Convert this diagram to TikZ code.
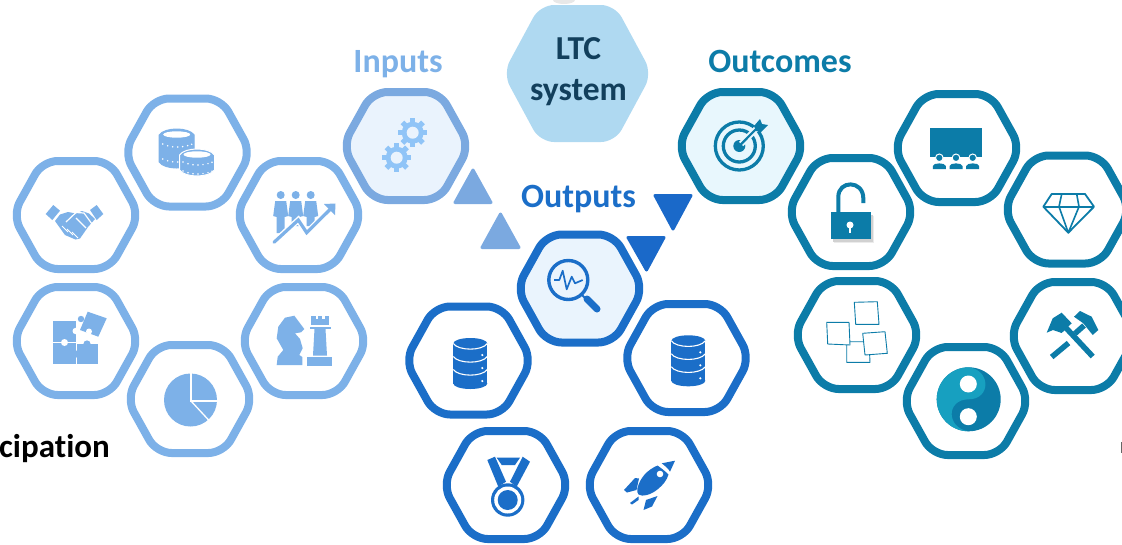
\documentclass[tikz,border=0pt]{standalone}
\usepackage{fontspec}
\setmainfont{Carlito}
\definecolor{inc}{HTML}{7DB1E8}
\definecolor{inb}{HTML}{7BA9E0}
\definecolor{inf}{HTML}{EAF3FD}
\definecolor{gearc}{HTML}{90C4F7}
\definecolor{outc}{HTML}{1B6EC8}
\definecolor{outf}{HTML}{EAF4FD}
\definecolor{tric}{HTML}{1A69C9}
\definecolor{cmc}{HTML}{0C7CA8}
\definecolor{cmf}{HTML}{E8F7FD}
\definecolor{ltcf}{HTML}{AFD9F1}
\definecolor{ltct}{HTML}{123F5C}
\definecolor{cyanl}{HTML}{17A0C0}
\tikzset{
  hexline/.style={line width=8pt,rounded corners=15pt,line join=round},
  ttl/.style={inner sep=0pt,anchor=base,font=\fontsize{34}{34}\selectfont\bfseries},
  ltctxt/.style={inner sep=0pt,anchor=base,text=ltct,font=\fontsize{33.5}{34}\selectfont\bfseries},
  tri/.style={line width=3pt,line join=round},
}
\newcommand{\hexa}[5]{%
  \coordinate (#1) at (#2,#3);
  \begin{scope}[shift={(#1)}]
    \draw[hexline,draw=#4,fill=#5] (-63.5,0) -- (-33.5,-54) -- (33.5,-54) -- (63.5,0) -- (33.5,54) -- (-33.5,54) -- cycle;
  \end{scope}}
\newcommand{\gearicon}[2]{%
  \begin{scope}[shift={(#1,#2)}]
    \fill[gearc] (0,0) circle[radius=11];
    \foreach \a in {0,45,...,315}{\fill[gearc,rotate=\a] (-2.6,-14.5) rectangle (2.6,0);}
    \fill[inf] (0,0) circle[radius=6];
  \end{scope}}
\newcommand{\dbicon}[2]{%
  \begin{scope}[shift={(#1,#2)}]
    \fill[outc] (-17,-20) rectangle (17,20);
    \fill[outc] (0,20) ellipse[x radius=17,y radius=5.5];
    \fill[outc] (0,-20) ellipse[x radius=17,y radius=5.5];
    \foreach \y in {-20,-7,6}{
      \draw[white,line width=1.1pt] (-17,\y) .. controls (-12,\y+7.5) and (12,\y+7.5) .. (17,\y);
      \fill[white] (12,\y+11.5) circle[radius=1.2];}
  \end{scope}}
\newcommand{\coinstack}[5]{%
  \begin{scope}[shift={(#1,#2)}]
    \fill[inc,draw=#5,line width=1pt] (-17.5,0) -- (-17.5,#3) .. controls (-12,#3+8) and (12,#3+8) .. (17.5,#3) -- (17.5,0) .. controls (12,-8) and (-12,-8) .. (-17.5,0) -- cycle;
    \fill[white] (0,-0.5) ellipse[x radius=13.5,y radius=3.2];
    \foreach \yy in {#4}{
      \foreach \x/\d in {-14/0,-9/1.8,-4/2.8,1/3,6/2.6,11/1.6,15/0.3}{
        \fill[white] (\x,\yy+\d) circle[radius=0.85];}}
  \end{scope}}
\newcommand{\person}[2]{%
  \fill[inc] (#1,195) circle[radius=4];
  \fill[inc] (#1-5.5,201) -- (#1+5.5,201) -- (#1+7.5,216) -- (#1+4,217) -- (#1+4,#2) -- (#1-4,#2) -- (#1-4,217) -- (#1-7.5,216) -- cycle;}
\begin{document}
\begin{tikzpicture}[x=1pt,y=-1pt]
\useasboundingbox (0,0) rectangle (1122,544);
% faint fragments at the edges
\fill[black!9] (564,0) ellipse[x radius=11,y radius=4];
\draw[black!60,line width=1pt] (1121.5,442) -- (1121.5,453);
% LTC
\coordinate (ltc) at (577.5,73.5);
\fill[ltcf,rounded corners=14pt] (503,73.5) -- (540,5) -- (615,5) -- (652,73.5) -- (615,142) -- (540,142) -- cycle;
\node[ltctxt] (ltc1) at (578.5,59.5) {LTC};
\node[ltctxt] (ltc2) at (578.5,100) {system};
% titles
\node[ttl,text=inc] (tinp) at (398,72) {Inputs};
\node[ttl,text=outc] (tout) at (578.5,207) {Outputs};
\node[ttl,text=cmc] (tcom) at (780,72) {Outcomes};
\node[inner sep=0pt,anchor=base east,font=\fontsize{33}{33}\selectfont\bfseries] (part) at (110,457) {cipat\kern0pt ion};
% left group
\hexa{hcoin}{187.5}{152.5}{inc}{white}
\hexa{hshake}{76}{215}{inc}{white}
\hexa{hgrow}{299}{215}{inc}{white}
\hexa{hpuzz}{76}{341}{inc}{white}
\hexa{hchess}{304}{341}{inc}{white}
\hexa{hpie}{190}{399}{inc}{white}
\hexa{hinp}{406}{146}{inb}{inf}
% middle group
\hexa{hout}{580}{288.5}{outc}{outf}
\hexa{hdbl}{468.5}{360.5}{outc}{white}
\hexa{hdbr}{686.5}{358}{outc}{white}
\hexa{hmed}{506}{485}{outc}{white}
\hexa{hrock}{649}{485}{outc}{white}
% right group
\hexa{hcom}{741}{146}{cmc}{cmf}
\hexa{hlock}{851}{212}{cmc}{white}
\hexa{hscr}{957}{148}{cmc}{white}
\hexa{hdia}{1067}{209.5}{cmc}{white}
\hexa{hpost}{857}{335}{cmc}{white}
\hexa{hhamm}{1073}{336}{cmc}{white}
\hexa{hyin}{966}{401}{cmc}{white}
% triangles
\filldraw[tri,draw=inb,fill=inb] (473,170) -- (455,202.5) -- (491,202.5) -- cycle;
\filldraw[tri,draw=inb,fill=inb] (500.5,214) -- (482,247.5) -- (519,247.5) -- cycle;
\filldraw[tri,draw=tric,fill=tric] (655,195.5) -- (691,195.5) -- (673,229) -- cycle;
\filldraw[tri,draw=tric,fill=tric] (628,237.5) -- (664,237.5) -- (646.5,270) -- cycle;
% coins
\coinstack{176.7}{135}{27}{9,24}{inc}
\coinstack{197}{155}{15}{7,16}{white}
% growth
\person{280.7}{233}
\person{295.7}{226}
\person{310.7}{226}
\draw[white,line width=6pt] (272,244) -- (298.3,220) -- (306.7,232.7) -- (331,209);
\draw[inc,line width=3.2pt,line cap=round,line join=miter] (274,242.3) -- (298.3,220) -- (306.7,232.7) -- (330.5,209);
\fill[inc] (324,204) -- (335.5,203.5) -- (335,215) -- cycle;
% handshake
\fill[inc] (45.7,214) -- (53.3,205) -- (60,210.7) -- (52.3,220) -- cycle;
\fill[inc] (90,210) -- (96.7,205) -- (103.3,214) -- (96.7,220) -- cycle;
\fill[inc] (60,214.5) -- (68,212) -- (76,213.5) -- (82,211) -- (89,213.5) -- (95,219) -- (88,227) -- (80,238.5) -- (75.5,239.5) -- (65,235) -- (60,228) -- (55,221) -- cycle;
\draw[white,line width=1.2pt] (66,222) -- (76,212.5) -- (84,213) -- (92,224);
\draw[white,line width=1.2pt] (76,218) -- (86,228);
\foreach \k in {0,1,2}{\draw[white,line width=1pt] (62+5*\k,226+3*\k) -- (68+5*\k,232+3*\k);}
% puzzle
\fill[inc] (53.3,320.7) rectangle (75.7,341.7);
\fill[inc] (53.3,343.3) rectangle (75.7,364);
\fill[inc] (76.7,344) rectangle (97.7,364);
\fill[white] (75.7,331) circle[radius=3.2];
\fill[white] (64.5,342.5) circle[radius=3.5];
\fill[inc] (76.5,354) circle[radius=3.5];
\fill[inc] (87,344) circle[radius=3.6];
\fill[inc] (87.7,311.7) -- (106.7,318.3) -- (98.3,336.7) -- (80,330) -- cycle;
\fill[inc] (81,319) circle[radius=3.2];
\fill[white] (89,331.5) circle[radius=3];
% chess
\fill[inc] (278.3,326.7) -- (285,317.7) -- (294.3,315.7) -- (298.3,321) -- (304.3,329) -- (301,332.3) -- (295,333.3) -- (300,339) -- (302.7,348.3) -- (299.3,355) -- (302.3,357) -- (302.3,365) -- (276.7,365) -- (277.7,356.7) -- (283.3,350) -- (276.7,338.3) -- cycle;
\fill[inc] (311,315.7) rectangle (329,325);
\foreach \x in {315.5,322}{\fill[white] (\x,315) rectangle (\x+2.5,318.5);}
\fill[inc] (309.5,326.5) rectangle (330.5,329);
\fill[inc] (314.5,329) -- (325.5,329) -- (327,355.5) -- (313,355.5) -- cycle;
\fill[inc] (306.7,356.7) rectangle (331.7,365.7);
% pie
\fill[inc] (190.5,400) circle[radius=26.5];
\draw[white,line width=1.3pt] (191,372) -- (191,401) -- (218,401);
\draw[white,line width=1.3pt] (191,401) -- (209.5,421);
% gears
\gearicon{412.7}{132.7}
\gearicon{396.7}{157.7}
% inspect
\draw[outc,line width=3.4pt] (568.3,280) circle[radius=19.5];
\draw[outc,line width=1.7pt,line join=round] (554,280) -- (559.3,280) -- (562.7,270.7) -- (566.7,289.3) -- (571.7,276.7) -- (575,283.3) -- (582.7,280);
\draw[outc,line width=2pt] (581,294) -- (586,299);
\draw[outc,line width=7pt,line cap=round] (587,299) -- (597,309);
% databases
\dbicon{470.3}{363.5}
\dbicon{688.3}{360.8}
% medal
\fill[outc] (487.3,460) -- (495,456.7) -- (506,481.7) -- (498.3,486.7) -- cycle;
\fill[outc] (522.7,456.7) -- (530,461.7) -- (516.7,486.7) -- (510,481.7) -- cycle;
\fill[outc] (496.7,457.7) -- (520,457.7) -- (515,465) -- (501.7,465) -- cycle;
\fill[outc] (507.7,500) circle[radius=16.7];
\fill[white] (507.7,500) circle[radius=13.5];
\fill[outc] (507.7,500) circle[radius=10];
% rocket
\fill[outc] (657.5,465.5) .. controls (647,470) and (640,478) .. (637.5,488) .. controls (637,491) and (637,493) .. (638.5,494.5) .. controls (642,497) and (651,495) .. (658,489) .. controls (663,485) and (667,480) .. (668.5,474.5) .. controls (665,471) and (661,468) .. (657.5,465.5) -- cycle;
\fill[outc] (661.7,463.3) -- (675,460.7) -- (670,471.7) .. controls (668,468) and (665,466) .. (661.7,463.3) -- cycle;
\fill[white] (660,474) circle[radius=3.3];
\fill[outc] (624,490) -- (635,478) -- (639,478.5) -- (636.5,490) -- (627,492.5) -- cycle;
\fill[outc] (643.5,510) -- (646,500) -- (657.5,496) -- (652,506.5) -- cycle;
\fill[outc] (630,503) -- (638.5,496.5) -- (638.5,500) -- (632,504.5) -- cycle;
% target
\draw[cmc,line width=3.3pt] (739.3,146) circle[radius=24];
\draw[cmc,line width=3.3pt] (739.3,146) circle[radius=16];
\fill[cmc] (739.3,146) circle[radius=6];
\draw[cmf,line width=6pt] (741,144) -- (757,128);
\draw[cmc,line width=2.2pt] (739.3,146) -- (759,126);
\fill[cmc] (754,126) -- (760,119) -- (762,124) -- (768,125) -- (761,132) -- (756,131) -- cycle;
% lock
\fill[black!8] (834,216) rectangle (874,243);
\fill[black!18] (833,215) rectangle (872.5,241.5);
\fill[cmc] (830.7,212.3) rectangle (870.7,239.3);
\draw[cmc,line width=4pt] (838.3,212) -- (838.3,197) .. controls (838.3,180) and (863,180) .. (863.3,198) -- (863.3,203);
\fill[white] (850,225) circle[radius=3.5];
\fill[white] (848.8,225) rectangle (851.2,233);
% screen
\fill[cmc] (930,127.7) rectangle (982.3,157.3);
\foreach \x in {939.3,956,972.7}{
  \fill[cmc,draw=white,line width=1pt] (\x,157.8) circle[radius=3.8];
  \fill[cmc] (\x-6.5,169) -- (\x-6.5,166) .. controls (\x-6,162.5) and (\x+6,162.5) .. (\x+6.5,166) -- (\x+6.5,169) -- cycle;}
% diamond
\draw[cmc,line width=1.8pt,line join=round] (1051.7,194) -- (1085,194) -- (1094,206.7) -- (1068.3,232.7) -- (1043.3,206.7) -- cycle;
\draw[cmc,line width=1.6pt,line join=round] (1043.3,206.7) -- (1094,206.7);
\draw[cmc,line width=1.6pt,line join=round] (1061.7,194) -- (1059,206.7) -- (1068.3,232.7) -- (1079,206.7) -- (1076.7,194);
% post-its
\foreach \p in {
 {(846.7,341.7) -- (869,341.7) -- (870,362.3) -- (846.7,362.3)},
 {(854.3,302.3) -- (877.3,301.7) -- (879,324.3) -- (855.7,324.3)},
 {(826.7,322.3) -- (849,322.3) -- (850,345) -- (827.7,344)},
 {(862.7,333.3) -- (885,331.7) -- (887.3,353.3) -- (865,355)}}{
 \filldraw[draw=cmc,fill=white,line width=0.9pt,line join=round] \p -- cycle;}
% hammers
\draw[cmc,line width=5.5pt] (1092.7,356.5) -- (1063.3,325);
\draw[cmc,line width=5.5pt] (1051.7,357) -- (1068.5,343);
\draw[cmc,line width=5.5pt] (1075,333.5) -- (1084,325.5);
\fill[cmc] (1046.7,332.7) -- (1052.7,318.3) -- (1061.7,312.7) -- (1071.7,323.3) -- (1061.7,333) -- (1053,330) -- cycle;
\fill[cmc] (1074,316.7) -- (1080,311) -- (1091.7,316.7) -- (1098.3,330) -- (1092.7,335) -- (1083.3,323.3) -- cycle;
% yin yang
\fill[cmc] (968.7,399.3) circle[radius=32];
\fill[cyanl] (968.7,367.3) .. controls (951,367.3) and (936.7,381.6) .. (936.7,399.3) .. controls (936.7,417) and (951,431.3) .. (968.7,431.3) .. controls (946,428) and (946,399.3) .. (968.7,399.3) .. controls (991,399.3) and (991,370) .. (968.7,367.3) -- cycle;
\fill[white] (968.3,384) circle[radius=8.5];
\fill[white] (968.3,416.7) circle[radius=8.5];
\end{tikzpicture}
\end{document}
